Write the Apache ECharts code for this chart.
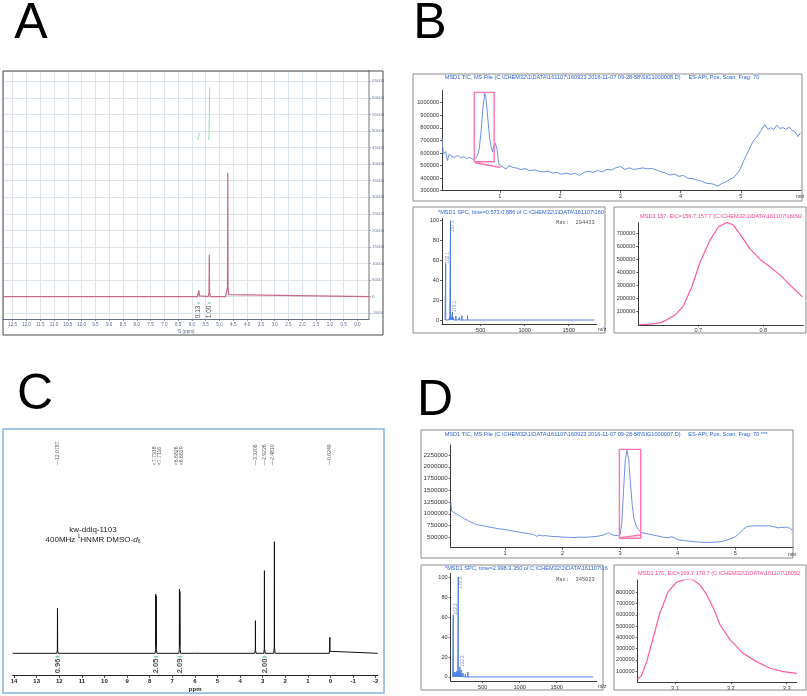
<!DOCTYPE html>
<html>
<head>
<meta charset="utf-8">
<script src="https://cdn.jsdelivr.net/npm/echarts@6.0.0/dist/echarts.min.js"></script>
<style>html,body{margin:0;padding:0;background:#fff;}#chart{width:807px;height:696px;}</style>
</head>
<body>
<div id="chart"></div>
<script>
// ================= DATA =================
const panelLetters = ['A', 'B', 'C', 'D'];

// ---- Panel A : 1H NMR (ppm, intensity) ----
const nmrA = [[12.85,0],[5.80,0],[5.76,250],[5.745,1900],[5.73,250],[5.69,0],[5.41,0],[5.38,1200],[5.37,12650],[5.36,1200],[5.33,0],[4.78,0],[4.73,600],[4.71,3000],[4.70,37300],[4.69,3000],[4.67,600],[4.62,0],[-0.42,0]];
const nmrAInt1 = [[5.79,47300],[5.765,47600],[5.75,48500],[5.735,49300],[5.71,49500]];
const nmrAInt2 = [[5.40,47300],[5.38,48200],[5.37,55000],[5.36,62300],[5.34,63200]];
const nmrAIntPos = [5.76, 5.37];
const nmrAIntLabels = ['0.13', '1.00'];

// ---- Panel B : LC-MS ----
const bTitle = 'MSD1 TIC, MS File (C:\\CHEM32\\1\\DATA\\161107\\160923 2016-11-07 09-28-58\\SIG1000008.D)     ES-API, Pos, Scan, Frag: 70';
const bTic = [[0.04,720000],[0.06,590000],[0.08,600000],[0.10,612000],[0.13,540000],[0.16,592000],[0.20,572000],[0.25,566000],[0.30,581000],[0.35,560000],[0.40,571000],[0.45,555000],[0.50,566000],[0.55,550000],[0.58,545000],[0.60,560000],[0.63,580000],[0.66,640000],[0.69,780000],[0.72,960000],[0.75,1075000],[0.77,1040000],[0.80,880000],[0.83,720000],[0.86,640000],[0.88,610000],[0.90,660000],[0.92,680000],[0.95,640000],[0.98,520000],[1.00,500000],[1.05,490000],[1.10,472000],[1.15,500000],[1.18,515000],[1.22,485000],[1.28,480000],[1.35,468000],[1.42,476000],[1.50,458000],[1.58,466000],[1.65,455000],[1.72,449000],[1.80,456000],[1.88,440000],[1.95,446000],[2.02,430000],[2.10,441000],[2.18,429000],[2.25,440000],[2.32,422000],[2.40,446000],[2.48,455000],[2.55,444000],[2.62,461000],[2.70,450000],[2.78,471000],[2.85,464000],[2.92,481000],[3.00,492000],[3.08,469000],[3.15,482000],[3.22,468000],[3.30,476000],[3.38,481000],[3.45,474000],[3.52,478000],[3.60,465000],[3.68,450000],[3.75,441000],[3.82,424000],[3.90,432000],[3.97,414000],[4.05,421000],[4.12,399000],[4.20,396000],[4.28,384000],[4.35,376000],[4.42,360000],[4.50,356000],[4.56,350000],[4.62,335000],[4.68,356000],[4.75,369000],[4.82,391000],[4.88,404000],[4.95,441000],[5.00,480000],[5.05,540000],[5.10,591000],[5.15,640000],[5.20,690000],[5.25,719000],[5.30,752000],[5.35,790000],[5.40,826000],[5.45,789000],[5.50,801000],[5.55,788000],[5.60,821000],[5.65,795000],[5.70,802000],[5.75,788000],[5.80,806000],[5.85,781000],[5.90,770000],[5.95,730000],[5.99,760000]];
const bBox = [[0.575,530000],[0.575,1082000],[0.906,1082000],[0.906,530000],[0.575,530000]];
const bBase = [[0.586,522000],[1.01,485000]];
const bTicXLabels = [1, 2, 3, 4, 5];
const bTicYLabels = [300000, 400000, 500000, 600000, 700000, 800000, 900000, 1000000];
const bSpecTitle = '*MSD1 SPC, time=0.573:0.886 of C:\\CHEM32\\1\\DATA\\161107\\160';
const bSpecMax = 'Max:  294433';
const bSpec = [[102.1,57],[120,1.5],[135,2],[148,3],[157.1,100],[166,3],[179.1,8],[192,2.5],[205,1.5],[218,4],[231,2],[244,1.5],[258,2.5],[272,1.5],[286,4.5],[301,1.5],[316,1],[333,2],[350,4.5],[368,1.5],[390,1],[420,1],[460,0.8],[510,1.2],[560,0.8],[640,0.6],[700,0.8],[780,0.6],[850,0.7],[960,0.5],[1060,0.6],[1180,0.5],[1290,0.8],[1420,0.5],[1560,0.6],[1700,0.5]];
const bSpecLabeled = [[102.1,57],[157.1,100],[179.1,8]];
const specXLabels = [500, 1000, 1500];
const specYLabels = [0, 20, 40, 60, 80, 100];
const bEicTitle = 'MSD1 157, EIC=156.7:157.7 (C:\\CHEM32\\1\\DATA\\161107\\16092';
const bEic = [[0.608,0],[0.626,5000],[0.641,15000],[0.651,36000],[0.664,74000],[0.677,143000],[0.690,291000],[0.703,482000],[0.718,648000],[0.731,750000],[0.744,783000],[0.754,763000],[0.767,673000],[0.779,584000],[0.795,500000],[0.810,444000],[0.826,380000],[0.841,304000],[0.860,214000]];
const bEicXLabels = [0.7, 0.8];
const bEicYLabels = [100000, 200000, 300000, 400000, 500000, 600000, 700000];

// ---- Panel C : 1H NMR 400 MHz ----
const cName = 'kw-ddiq-1103';
const cSpectrum = [[14.06,0],[12.11,0],[12.085,3],[12.078,45],[12.07,3],[12.05,0],[7.76,0],[7.735,4],[7.731,59],[7.722,8],[7.712,57],[7.70,4],[7.68,0],[6.71,0],[6.686,4],[6.682,64],[6.673,8],[6.663,62],[6.65,4],[6.63,0],[6.02,0],[6.00,2],[5.98,0],[3.35,0],[3.325,3],[3.32,32.6],[3.315,3],[3.29,0],[2.95,0],[2.927,5],[2.922,82.6],[2.917,5],[2.89,0],[2.51,0],[2.486,6],[2.481,111.6],[2.476,6],[2.45,0],[0.05,0],[0.03,2],[0.025,16],[0.02,2],[0.00,0],[-2.09,0]];
const cPeakLabels = [12.0787, 7.7318, 7.7116, 6.6826, 6.6629, 3.3206, 2.9226, 2.4810, 0.0249];
const cIntPos = [12.08, 7.72, 6.67, 2.92];
const cIntLabels = ['0.96', '2.05', '2.09', '2.00'];
const cXLabels = [14, 13, 12, 11, 10, 9, 8, 7, 6, 5, 4, 3, 2, 1, 0, -1, -2];

// ---- Panel D : LC-MS ----
const dTitle = 'MSD1 TIC, MS File (C:\\CHEM32\\1\\DATA\\161107\\160923 2016-11-07 09-28-58\\SIG1000007.D)     ES-API, Pos, Scan, Frag: 70 ***';
const dTic = [[0.06,1260000],[0.07,1060000],[0.10,1030000],[0.15,1000000],[0.20,962000],[0.25,930000],[0.30,888000],[0.35,862000],[0.40,820000],[0.45,802000],[0.50,770000],[0.55,762000],[0.60,752000],[0.70,722000],[0.80,702000],[0.90,680000],[1.00,665000],[1.10,641000],[1.20,622000],[1.30,598000],[1.40,580000],[1.50,556000],[1.55,522000],[1.60,546000],[1.65,530000],[1.70,536000],[1.80,520000],[1.90,516000],[2.00,505000],[2.10,500000],[2.20,495000],[2.30,505000],[2.40,500000],[2.50,510000],[2.60,520000],[2.70,545000],[2.76,580000],[2.80,600000],[2.85,560000],[2.90,540000],[2.95,535000],[3.00,560000],[3.03,800000],[3.06,1500000],[3.09,2150000],[3.12,2350000],[3.15,2150000],[3.18,1650000],[3.21,1200000],[3.24,900000],[3.28,740000],[3.32,660000],[3.38,600000],[3.45,580000],[3.55,555000],[3.65,530000],[3.75,500000],[3.85,490000],[3.90,515000],[3.95,480000],[4.00,450000],[4.10,430000],[4.20,420000],[4.30,405000],[4.40,395000],[4.50,390000],[4.60,395000],[4.70,400000],[4.80,420000],[4.90,460000],[5.00,510000],[5.05,560000],[5.10,620000],[5.15,680000],[5.20,720000],[5.25,735000],[5.30,740000],[5.40,745000],[5.50,740000],[5.60,745000],[5.70,715000],[5.75,700000],[5.80,715000],[5.85,705000],[5.90,720000],[5.95,690000],[6.00,650000]];
const dBox = [[2.988,479000],[2.988,2370000],[3.359,2370000],[3.359,479000],[2.988,479000]];
const dBase = [[3.0,493000],[3.36,550000]];
const dTicXLabels = [1, 2, 3, 4, 5];
const dTicYLabels = [500000, 750000, 1000000, 1250000, 1500000, 1750000, 2000000, 2250000];
const dSpecTitle = '*MSD1 SPC, time=2.998:3.350 of C:\\CHEM32\\1\\DATA\\161107\\16';
const dSpecMax = 'Max:  345023';
const dSpec = [[102.3,62],[115,5],[128,5],[140,3],[152,6],[163,5],[170.2,100],[178,4],[186,6],[192.2,10],[200,3],[210,7],[222,3],[236,4],[250,2],[265,3],[280,2],[300,5],[320,1.5],[345,1],[380,0.8],[420,0.8],[480,0.6],[560,0.6],[650,0.5],[760,0.6],[900,0.5],[1050,0.5],[1200,0.5],[1350,0.6],[1500,0.5],[1650,0.5],[1800,0.6],[1950,0.5]];
const dSpecLabeled = [[102.3,62],[170.2,100],[192.2,10]];
const dEicTitle = 'MSD1 170, EIC=169.7:170.7 (C:\\CHEM32\\1\\DATA\\161107\\16092';
const dEic = [[3.033,30000],[3.040,59000],[3.049,178000],[3.061,392000],[3.073,614000],[3.088,807000],[3.103,890000],[3.121,920000],[3.133,911000],[3.145,866000],[3.157,777000],[3.169,659000],[3.181,510000],[3.199,377000],[3.222,258000],[3.246,184000],[3.270,125000],[3.294,95000],[3.318,80000]];
const dEicXLabels = [3.1, 3.2, 3.3];
const dEicYLabels = [100000, 200000, 300000, 400000, 500000, 600000, 700000, 800000];

// ================= BUILD =================
const FONT = '"Liberation Sans", Arial, sans-serif';
const plain = v => String(v);
function merge(a, b) {
  for (const k in b) {
    const v = b[k];
    if (v && typeof v === 'object' && !Array.isArray(v) && a[k] && typeof a[k] === 'object' && !Array.isArray(a[k])) merge(a[k], v);
    else a[k] = v;
  }
  return a;
}
function axis(grid, extra) {
  return merge({
    gridIndex: grid, type: 'value',
    axisLine: {show: true, onZero: false, lineStyle: {color: '#3c3c3c', width: 1}},
    axisTick: {show: true, length: 2, lineStyle: {color: '#3c3c3c', width: 0.8}},
    axisLabel: {show: true, fontSize: 5.6, color: '#333', fontFamily: FONT, margin: 3, formatter: plain},
    splitLine: {show: false}
  }, extra || {});
}
function lineS(i, data, color, width, extra) {
  return merge({type: 'line', xAxisIndex: i, yAxisIndex: i, data: data, symbol: 'none', showSymbol: false,
    lineStyle: {color: color, width: width}, itemStyle: {color: color}, silent: true, animation: false, clip: true, z: 3}, extra || {});
}
function labelS(i, items, label) {
  return {type: 'scatter', xAxisIndex: i, yAxisIndex: i, data: items, symbolSize: 1,
    itemStyle: {color: 'rgba(0,0,0,0)'}, silent: true, animation: false, z: 5,
    label: merge({show: true, position: 'inside', rotate: 90, fontFamily: FONT, formatter: p => p.value[2]}, label)};
}
function sticks(peaks, lo, hi) {
  const s = peaks.slice().sort((a, b) => a[0] - b[0]);
  const out = [[lo, 0]];
  s.forEach(p => { out.push([p[0], 0], [p[0], p[1]], [p[0], 0]); });
  out.push([hi, 0]);
  return out;
}

const grids = [
  {left: 3, top: 71, width: 366, height: 248},          // A
  {left: 442, top: 90.4, width: 359, height: 100.3},     // B TIC
  {left: 442, top: 218.3, width: 154.7, height: 105.7},  // B spectrum
  {left: 638.3, top: 222.7, width: 165, height: 102.1},  // B EIC
  {left: 12.7, top: 429, width: 365, height: 246},       // C
  {left: 450.7, top: 445, width: 342.6, height: 102.3},  // D TIC
  {left: 450.7, top: 573.3, width: 146, height: 107.7},  // D spectrum
  {left: 637.7, top: 580, width: 159, height: 102.3}     // D EIC
].map(g => Object.assign({outerBoundsMode: 'none', containLabel: false, show: false}, g));

const xAxes = [], yAxes = [];
// A
xAxes.push(axis(0, {inverse: true, min: -0.42, max: 12.85, splitNumber: 26,
  axisLine: {lineStyle: {color: '#68718a'}}, axisTick: {length: 2, lineStyle: {color: '#68718a'}},
  axisLabel: {fontSize: 4.6, color: '#5d6b8c', showMinLabel: false, showMaxLabel: false, formatter: v => v.toFixed(1)},
  splitLine: {show: true, lineStyle: {color: '#dde4ec', width: 1}},
  name: 'f1 (ppm)', nameLocation: 'middle', nameGap: 10, nameTextStyle: {fontSize: 4.6, color: '#5d6b8c', fontFamily: FONT}}));
yAxes.push(axis(0, {position: 'right', min: -6730, max: 68100, splitNumber: 15,
  axisLine: {lineStyle: {color: '#b9b9b9', width: 2}}, axisTick: {length: 2, lineStyle: {color: '#8a93a6'}},
  axisLabel: {fontSize: 4.4, color: '#6c7c9c', showMinLabel: false, showMaxLabel: false},
  splitLine: {show: true, lineStyle: {color: '#dde4ec', width: 1}}}));
// B TIC
xAxes.push(axis(1, {min: 0.04, max: 6.0, axisLabel: {customValues: bTicXLabels}, axisTick: {customValues: bTicXLabels, length: 2.5}}));
yAxes.push(axis(1, {min: 300000, max: 1098000, axisLabel: {customValues: bTicYLabels}, axisTick: {customValues: bTicYLabels}}));
// B spectrum
xAxes.push(axis(2, {min: 60, max: 1818, axisLabel: {customValues: specXLabels}, axisTick: {customValues: specXLabels}}));
yAxes.push(axis(2, {min: -4, max: 102.4, axisLabel: {customValues: specYLabels}, axisTick: {customValues: specYLabels}}));
// B EIC
xAxes.push(axis(3, {min: 0.6077, max: 0.8615, axisLabel: {customValues: bEicXLabels}, axisTick: {customValues: bEicXLabels}}));
yAxes.push(axis(3, {min: 0, max: 781000, axisLabel: {customValues: bEicYLabels}, axisTick: {customValues: bEicYLabels}}));
// C
xAxes.push(axis(4, {inverse: true, min: -2.09, max: 14.06,
  axisLine: {lineStyle: {color: '#222'}}, axisTick: {customValues: cXLabels, length: 3, lineStyle: {color: '#222'}},
  axisLabel: {customValues: cXLabels, fontSize: 6, fontWeight: 'bold', color: '#222', margin: 3},
  name: 'ppm', nameLocation: 'middle', nameGap: 11, nameTextStyle: {fontSize: 6, fontWeight: 'bold', color: '#222', fontFamily: FONT}}));
yAxes.push(axis(4, {show: false, min: -21.7, max: 224.3}));
// D TIC
xAxes.push(axis(5, {min: 0.056, max: 6.01, axisLabel: {customValues: dTicXLabels}, axisTick: {customValues: dTicXLabels, length: 2.5}}));
yAxes.push(axis(5, {min: 287400, max: 2462600, axisLabel: {customValues: dTicYLabels, fontSize: 6.2}, axisTick: {customValues: dTicYLabels}}));
// D spectrum
xAxes.push(axis(6, {min: 67.6, max: 2040, axisLabel: {customValues: specXLabels}, axisTick: {customValues: specXLabels}}));
yAxes.push(axis(6, {min: -4.05, max: 103.7, axisLabel: {customValues: specYLabels}, axisTick: {customValues: specYLabels}}));
// D EIC
xAxes.push(axis(7, {min: 3.0334, max: 3.318, axisLabel: {customValues: dEicXLabels}, axisTick: {customValues: dEicXLabels}}));
yAxes.push(axis(7, {min: 0, max: 910000, axisLabel: {customValues: dEicYLabels}, axisTick: {customValues: dEicYLabels}}));

// shift a data x-value by a number of pixels, using the axis extent and grid width
function shiftX(i, value, px) {
  const ax = xAxes[i], g = grids[i];
  const perPx = (ax.max - ax.min) / g.width;
  return value + (ax.inverse ? -1 : 1) * px * perPx;
}

const TIC = '#6d8fe9', BOX = '#ff73b2', SPEC = '#4f7fe6', EIC = '#ff5aa5', TEAL = '#2fb3a3', LBL = '#4a68b5';

function specLabelItems(i, list, aligns) {
  return list.map((p, k) => ({value: [shiftX(i, p[0], 2.5), p[1], p[0].toFixed(1)],
    label: {align: aligns[k]}}));
}
const cLabelShiftPx = [0, -1.4, 3.2, -2.5, 2.1, 0, 0, -2, 0];

const series = [
  // A
  lineS(0, nmrA, '#c8688c', 1.2),
  lineS(0, nmrAInt1, '#93e0a8', 1),
  lineS(0, nmrAInt2, '#93e0a8', 1),
  labelS(0, nmrAIntPos.map((x, k) => [x, -4600, nmrAIntLabels[k]]), {fontSize: 6.5, color: '#222'}),
  {type: 'scatter', xAxisIndex: 0, yAxisIndex: 0, data: nmrAIntPos.map(x => [x, -1900]), symbol: 'rect', symbolSize: [3, 1], itemStyle: {color: TEAL}, silent: true, animation: false},
  // B
  lineS(1, bTic, TIC, 1),
  lineS(1, bBox, BOX, 1.4, {clip: false}),
  lineS(1, bBase, BOX, 1.4),
  lineS(2, sticks(bSpec, 95, 1790), SPEC, 1),
  labelS(2, specLabelItems(2, bSpecLabeled, ['left', 'right', 'left']), {fontSize: 4.6, color: LBL}),
  lineS(3, bEic, EIC, 1.2),
  // C
  lineS(4, cSpectrum, '#111', 1),
  labelS(4, cPeakLabels.map((v, k) => [shiftX(4, v, cLabelShiftPx[k]), 188,
    ((k >= 1 && k <= 4) ? '<' : '\u2014') + v.toFixed(4)]),
    {fontSize: 5.2, color: '#333', align: 'left', verticalAlign: 'middle'}),
  labelS(4, cIntPos.map((x, k) => [x, -12.7, cIntLabels[k]]), {fontSize: 7.5, fontWeight: 'bold', color: '#222'}),
  {type: 'scatter', xAxisIndex: 4, yAxisIndex: 4, data: cIntPos.map(x => [x, -3.5]), symbol: 'rect', symbolSize: [4, 1.2], itemStyle: {color: TEAL}, silent: true, animation: false},
  // D
  lineS(5, dTic, TIC, 1),
  lineS(5, dBox, BOX, 1.4, {clip: false}),
  lineS(5, dBase, BOX, 1.4),
  lineS(6, sticks(dSpec, 95, 1990), SPEC, 1),
  labelS(6, specLabelItems(6, dSpecLabeled, ['left', 'right', 'left']), {fontSize: 4.6, color: LBL}),
  lineS(7, dEic, EIC, 1.2)
];

function txt(x, y, text, size, color, extra) {
  return merge({type: 'text', x: x, y: y, z: 50, silent: true,
    style: {text: text, fontSize: size, fontFamily: FONT, fill: color, align: 'left', verticalAlign: 'middle'}}, extra || {});
}
function frame(x, y, w, h, color, lw) {
  return {type: 'rect', z: 1, silent: true, shape: {x: x, y: y, width: w, height: h}, style: {fill: 'transparent', stroke: color, lineWidth: lw}};
}
const graphic = [
  frame(3, 71, 380, 264, '#4a4a4a', 1),
  frame(413, 74, 389, 127, '#8c8c8c', 1),
  frame(413, 207, 192, 126, '#8c8c8c', 1),
  frame(614, 207, 192, 126, '#8c8c8c', 1),
  frame(3, 429, 381, 264, '#86b4e2', 1.5),
  frame(421, 430, 372, 128, '#8c8c8c', 1),
  frame(421, 565, 182, 125, '#8c8c8c', 1),
  frame(614, 565, 192, 125, '#8c8c8c', 1),
  txt(31, 24, panelLetters[0], 50, '#000', {style: {align: 'center'}}),
  txt(430, 24, panelLetters[1], 50, '#000', {style: {align: 'center'}}),
  txt(35, 395, panelLetters[2], 50, '#000', {style: {align: 'center'}}),
  txt(435, 401, panelLetters[3], 50, '#000', {style: {align: 'center'}}),
  txt(602, 77.5, bTitle, 5.6, '#2f62d6', {style: {align: 'center'}}),
  txt(438, 212, bSpecTitle, 5.6, '#2f62d6'),
  txt(556, 223, bSpecMax, 5.4, '#555', {style: {fontFamily: '"Liberation Mono", monospace'}}),
  txt(640, 216, bEicTitle, 5.6, '#ff3f96'),
  txt(796, 196.5, 'min', 5.2, '#333'),
  txt(598, 330, 'm/z', 5.2, '#333'),
  txt(606, 434.5, dTitle, 5.6, '#2f62d6', {style: {align: 'center'}}),
  txt(445, 568, dSpecTitle, 5.6, '#2f62d6'),
  txt(556, 580, dSpecMax, 5.4, '#555', {style: {fontFamily: '"Liberation Mono", monospace'}}),
  txt(638, 573, dEicTitle, 5.6, '#ff3f96'),
  txt(788, 555, 'min', 5.2, '#333'),
  txt(598, 687, 'm/z', 5.2, '#333'),
  txt(93, 530, cName, 8, '#222', {style: {align: 'center'}}),
  {type: 'text', x: 93, y: 539.5, z: 50, silent: true, style: {
    text: '{n|400MHz }{s|1}{n|HNMR DMSO-}{i|d}{b|6}', align: 'center', verticalAlign: 'middle',
    rich: {
      n: {fontSize: 8, fontFamily: FONT, fill: '#222', lineHeight: 10},
      s: {fontSize: 5, fontFamily: FONT, fill: '#222', verticalAlign: 'top', lineHeight: 10},
      i: {fontSize: 8, fontFamily: FONT, fontStyle: 'italic', fill: '#222', lineHeight: 10},
      b: {fontSize: 5, fontFamily: FONT, fill: '#222', verticalAlign: 'bottom', lineHeight: 10}
    }}}
];

const chart = echarts.init(document.getElementById('chart'), null, {renderer: 'canvas', width: 807, height: 696});
chart.setOption({
  backgroundColor: '#ffffff',
  animation: false,
  tooltip: {show: false},
  grid: grids,
  xAxis: xAxes,
  yAxis: yAxes,
  series: series,
  graphic: graphic
});
</script>
</body>
</html>
